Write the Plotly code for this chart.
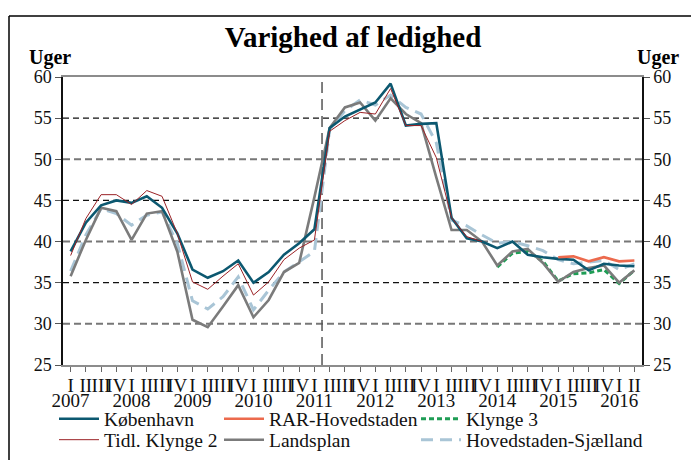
import plotly.graph_objects as go

# ---------------- data ----------------
quarter_labels = ["I", "II", "III", "IV"] * 9 + ["I", "II"]
year_labels = ["2007", "2008", "2009", "2010", "2011", "2012", "2013", "2014", "2015", "2016"]

koebenhavn = [38.8, 42.3, 44.4, 45.0, 44.7, 45.5, 44.1, 41.0, 36.6, 35.6,
              36.4, 37.7, 35.0, 36.3, 38.4, 39.8, 41.5, 53.8, 55.2, 56.1,
              56.9, 59.2, 54.1, 54.3, 54.4, 42.9, 40.4, 40.0, 39.2, 40.0,
              38.4, 38.1, 37.9, 37.8, 36.5, 37.3, 37.1, 37.0]

rar_hovedstaden = [None] * 32 + [38.1, 38.2, 37.6, 38.1, 37.6, 37.7]

klynge3 = [None] * 28 + [36.9, 38.6, 38.8, 37.6, 35.2, 36.1, 36.2, 36.6, 34.9, 36.5]

tidl_klynge2 = [38.3, 42.8, 45.7, 45.7, 44.5, 46.2, 45.5, 41.0, 35.1, 34.2,
                35.8, 37.3, 33.5, 35.1, 37.8, 39.2, 40.2, 53.4, 54.7, 55.7,
                55.5, 58.6, 54.1, 54.1, 50.2, 42.9, 40.6, 40.0] + [None] * 10

landsplan = [35.8, 40.2, 44.1, 43.7, 40.2, 43.4, 43.7, 38.8, 30.5, 29.6,
             32.1, 34.7, 30.8, 32.9, 36.3, 37.4, 45.4, 53.8, 56.3, 56.9,
             54.7, 57.4, 55.5, 54.4, 47.8, 41.4, 41.4, 40.0, 37.1, 38.8,
             39.1, 37.4, 35.1, 36.3, 36.8, 37.1, 35.0, 36.5]

hovedstaden_sjaelland = [36.4, 40.8, 44.0, 43.4, 42.0, 43.2, 43.6, 39.8, 32.8, 31.8,
                         33.3, 35.7, 31.7, 34.1, 36.3, 37.6, 38.8, 53.6, 55.9, 57.2,
                         56.6, 57.8, 56.3, 55.5, 52.0, 42.6, 41.9, 40.8, 39.8, 40.0,
                         39.5, 38.9, 37.8, 37.3, 37.5, 37.7, 36.6, 37.3]

y_ticks = [25, 30, 35, 40, 45, 50, 55, 60]
grid_black = [55, 45, 35]
grid_gray = [50, 40, 30]
break_position = 16.5  # between 2011 Q1 and 2011 Q2

# ---------------- build ----------------
W, H = 691, 460
L, R, T, B = 63, 49, 77, 95
PW, PH = W - L - R, H - T - B

def px_x(px):
    return (px - L) / PW

def px_y(py):
    return (H - B - py) / PH

x = list(range(len(quarter_labels)))
year_pos = [i for i, q in enumerate(quarter_labels) if q == "I"]

FONT = "Liberation Serif"

fig = go.Figure()

# legend slots: (legend id, swatch-start px, row-centre px)
slots = {
    "København": ("legend", 60, 419),
    "RAR-Hovedstaden": ("legend2", 225, 419),
    "Klynge 3": ("legend3", 422, 419),
    "Tidl. Klynge 2": ("legend4", 60, 440),
    "Landsplan": ("legend5", 225, 440),
    "Hovedstaden-Sjælland": ("legend6", 422, 440),
}

def add(name, y, color, width, dash="solid"):
    fig.add_trace(go.Scatter(
        x=x, y=y, name=name, mode="lines",
        line=dict(color=color, width=width, dash=dash),
        legend=slots[name][0], connectgaps=False, hoverinfo="skip",
    ))

# draw order (bottom -> top)
add("Klynge 3", klynge3, "#1f9d55", 3, "5px,3px")
add("Hovedstaden-Sjælland", hovedstaden_sjaelland, "#a9c5d6", 3, "12px,7px")
add("Landsplan", landsplan, "#7b7b7b", 2.6)
add("København", koebenhavn, "#0c5870", 2.6)
add("RAR-Hovedstaden", rar_hovedstaden, "#ec6a4d", 2.6)
add("Tidl. Klynge 2", tidl_klynge2, "#9b2226", 1)

# helper traces that only create the extra axes (right y axis, year axis)
fig.add_trace(go.Scatter(x=[None], y=[None], yaxis="y2", showlegend=False, hoverinfo="skip"))
fig.add_trace(go.Scatter(x=[None], y=[None], xaxis="x2", showlegend=False, hoverinfo="skip"))

shapes = []
for g in grid_black:
    shapes.append(dict(type="line", xref="paper", x0=0, x1=1, yref="y", y0=g, y1=g,
                       line=dict(color="#111111", width=1.2, dash="6px,4px"), layer="below"))
for g in grid_gray:
    shapes.append(dict(type="line", xref="paper", x0=0, x1=1, yref="y", y0=g, y1=g,
                       line=dict(color="#777777", width=2, dash="7px,4px"), layer="below"))
shapes.append(dict(type="line", xref="x", x0=break_position, x1=break_position,
                   yref="paper", y0=0, y1=1,
                   line=dict(color="#555555", width=1.5, dash="11px,6px"), layer="below"))
# outer frame (top + left edges)
shapes.append(dict(type="line", xref="paper", yref="paper",
                   x0=px_x(9), x1=px_x(W + 5), y0=px_y(16), y1=px_y(16), line=dict(color="#000", width=1.5)))
shapes.append(dict(type="line", xref="paper", yref="paper",
                   x0=px_x(9), x1=px_x(9), y0=px_y(H + 5), y1=px_y(16), line=dict(color="#000", width=1.5)))

axis_common = dict(showgrid=False, zeroline=False, automargin=False)

layout_legends = {}
for name, (lid, sx, cy) in slots.items():
    layout_legends[lid] = dict(
        orientation="h", xref="container", yref="container",
        x=(sx - 6) / W, y=1 - cy / H, xanchor="left", yanchor="middle",
        font=dict(size=19.5, family=FONT, color="#111"),
        itemwidth=40, bgcolor="rgba(0,0,0,0)", borderwidth=0,
    )

fig.update_layout(
    template="none",
    width=W, height=H,
    margin=dict(l=L, r=R, t=T, b=B, autoexpand=False),
    paper_bgcolor="white", plot_bgcolor="white",
    font=dict(family=FONT, color="#111111"),
    title=dict(text="<b>Varighed af ledighed</b>", x=353 / W, xref="container",
               xanchor="center", y=1 - 37 / H, yanchor="middle",
               font=dict(size=29, family=FONT, color="#000")),
    xaxis=dict(range=[-0.5, 37.5], tickmode="array", tickvals=x, ticktext=quarter_labels,
               tickangle=0, tickfont=dict(size=19, family=FONT, color="#111"),
               showline=True, linecolor="#8c8c8c", linewidth=2,
               mirror=True, ticks="outside", ticklen=5, tickcolor="#666",
               ticklabelstandoff=-3, **axis_common),
    xaxis2=dict(range=[-0.5, 37.5], tickmode="array", tickvals=year_pos, ticktext=year_labels,
                overlaying="x", side="bottom", anchor="y", tickangle=0,
                tickfont=dict(size=19, family=FONT, color="#111"),
                showline=False, ticks="", ticklabelstandoff=22, **axis_common),
    yaxis=dict(range=[25, 60], tickmode="array", tickvals=y_ticks,
               tickfont=dict(size=18, family=FONT, color="#111"),
               showline=True, linecolor="#111", linewidth=1.5,
               ticks="outside", ticklen=6, tickcolor="#555", **axis_common),
    yaxis2=dict(range=[25, 60], tickmode="array", tickvals=y_ticks, overlaying="y", side="right",
                tickfont=dict(size=18, family=FONT, color="#111"),
                showline=True, linecolor="#111", linewidth=1.5,
                ticks="outside", ticklen=6, tickcolor="#555", **axis_common),
    shapes=shapes,
    showlegend=True,
    annotations=[
        dict(text="<b>Uger</b>", xref="paper", yref="paper", x=px_x(50), y=px_y(57),
             showarrow=False, xanchor="center", yanchor="middle",
             font=dict(size=20, family=FONT, color="#000")),
        dict(text="<b>Uger</b>", xref="paper", yref="paper", x=px_x(658), y=px_y(57),
             showarrow=False, xanchor="center", yanchor="middle",
             font=dict(size=20, family=FONT, color="#000")),
    ],
    **layout_legends,
)

fig.write_html("out.html", config={"displayModeBar": False},
               post_script="document.body.style.margin='0';")
